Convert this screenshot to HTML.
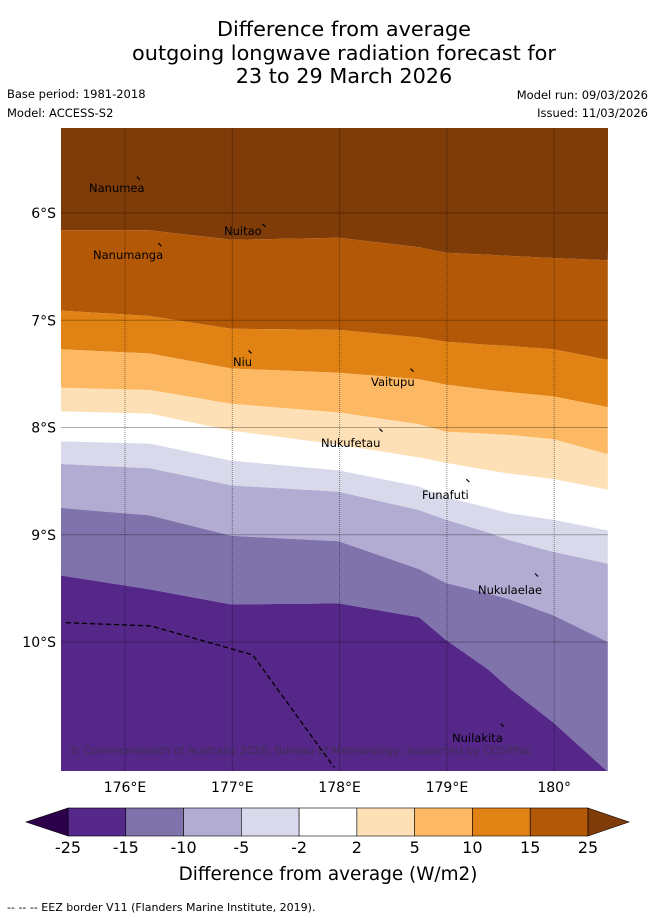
<!DOCTYPE html>
<html><head><meta charset="utf-8">
<style>
body{margin:0;background:#fff;width:655px;height:919px;overflow:hidden;font-family:"Liberation Sans","DejaVu Sans",sans-serif;}
svg text{font-family:"DejaVu Sans","Liberation Sans",sans-serif;}
</style></head>
<body>
<svg id="chart" width="655" height="919" xmlns="http://www.w3.org/2000/svg">
<g font-size="20.8" text-anchor="middle" fill="#000">
<text x="344" y="36">Difference from average</text>
<text x="344" y="60">outgoing longwave radiation forecast for</text>
<text x="344" y="83">23 to 29 March 2026</text>
</g>
<text x="7" y="98" font-size="11.5">Base period: 1981-2018</text>
<text x="7" y="117" font-size="11.5">Model: ACCESS-S2</text>
<text x="648" y="99" font-size="11.5" text-anchor="end">Model run: 09/03/2026</text>
<text x="648" y="117" font-size="11.5" text-anchor="end">Issued: 11/03/2026</text>
<defs><clipPath id="mapclip"><rect x="61" y="128" width="547" height="643"/></clipPath></defs>
<g id="map" clip-path="url(#mapclip)"></g>
<g id="axes"></g>
<g id="cbar"></g>
<text x="328" y="880" font-size="18.4" text-anchor="middle">Difference from average (W/m2)</text>
<text x="7" y="911" font-size="11">--  --  -- EEZ border V11 (Flanders Marine Institute, 2019).</text>
</svg>
<script>
// ---- data ----
const lons = [175.40, 176.23, 176.99, 177.99, 178.74, 178.99, 179.39, 179.58, 179.99, 180.50];
const levels = [25, 15, 10, 5, 2, -2, -5, -10, -15, -25];
const boundaries = [
  [6.16, 6.16, 6.25, 6.23, 6.32, 6.37, 6.39, 6.40, 6.42, 6.44],
  [6.91, 6.96, 7.08, 7.09, 7.16, 7.20, 7.23, 7.24, 7.27, 7.37],
  [7.27, 7.31, 7.45, 7.49, 7.55, 7.60, 7.65, 7.67, 7.71, 7.81],
  [7.63, 7.65, 7.78, 7.86, 7.97, 8.04, 8.06, 8.07, 8.11, 8.25],
  [7.85, 7.87, 8.03, 8.16, 8.28, 8.33, 8.40, 8.43, 8.48, 8.58],
  [8.13, 8.15, 8.31, 8.40, 8.55, 8.65, 8.75, 8.80, 8.86, 8.96],
  [8.34, 8.38, 8.54, 8.60, 8.77, 8.86, 8.98, 9.05, 9.16, 9.27],
  [8.75, 8.82, 9.01, 9.06, 9.32, 9.45, 9.55, 9.60, 9.75, 10.00],
  [9.38, 9.51, 9.65, 9.64, 9.77, 9.98, 10.26, 10.43, 10.75, 11.21]
];
const bandColors = ['#7f3b08','#b35806','#e08214','#fdb863','#fee0b6','#ffffff','#d8daeb','#b2abd2','#8073ac','#542788'];
const latTicks = [6, 7, 8, 9, 10];
const lonTicks = [176, 177, 178, 179, 180];
const lonTickLabels = ['176°E','177°E','178°E','179°E','180°'];
const cbarTicks = ['-25','-15','-10','-5','-2','2','5','10','15','25'];
const places = [
  {name:'Nanumea', lon:176.13, lat:5.68, lx:89, ly:192},
  {name:'Nuitao', lon:177.30, lat:6.12, lx:224, ly:235},
  {name:'Nanumanga', lon:176.33, lat:6.30, lx:93, ly:259},
  {name:'Niu', lon:177.17, lat:7.30, lx:233, ly:366},
  {name:'Vaitupu', lon:178.68, lat:7.47, lx:371, ly:386},
  {name:'Nukufetau', lon:178.39, lat:8.03, lx:321, ly:447},
  {name:'Funafuti', lon:179.20, lat:8.50, lx:422, ly:499},
  {name:'Nukulaelae', lon:179.84, lat:9.38, lx:478, ly:594},
  {name:'Nuilakita', lon:179.52, lat:10.78, lx:452, ly:742}
];
const eezLon = [175.45, 176.24, 177.19, 177.95];
const eezLat = [9.82, 9.85, 10.12, 11.17];

// ---- axes ----
const X0=61, X1=608, Y0=128, Y1=771;
const x = lon => 125 + (lon-176)*107.3;
const y = lat => 213 + (lat-6)*107.25;
const NS='http://www.w3.org/2000/svg';
function mk(tag, attrs, parent){const e=document.createElementNS(NS,tag);for(const k in attrs)e.setAttribute(k,attrs[k]);parent.appendChild(e);return e;}
const map=document.getElementById('map'), axes=document.getElementById('axes'), cbar=document.getElementById('cbar');

for(let i=0;i<bandColors.length;i++){
  let pts=[];
  if(i===0){pts.push([X0-2,Y0-2],[X1+2,Y0-2]);}
  else{const b=boundaries[i-1];for(let j=lons.length-1;j>=0;j--)pts.push([x(lons[j]),y(b[j])]);pts.reverse();}
  let bot=[];
  if(i===bandColors.length-1){bot=[[X1+2,Y1+2],[X0-2,Y1+2]];}
  else{const b=boundaries[i];for(let j=lons.length-1;j>=0;j--)bot.push([x(lons[j]),y(b[j])]);}
  const all=pts.concat(bot);
  const p=mk('polygon',{points:all.map(q=>q[0].toFixed(1)+','+q[1].toFixed(1)).join(' '),fill:bandColors[i]},map);
  
  
}
latTicks.forEach(t=>{const l=mk('line',{x1:X0,x2:X1,y1:y(t),y2:y(t),stroke:'#000','stroke-opacity':0.3,'stroke-width':1},map);
  
  });
lonTicks.forEach(t=>{const l=mk('line',{x1:x(t),x2:x(t),y1:Y0,y2:Y1,stroke:'#000','stroke-opacity':0.45,'stroke-width':1,'stroke-dasharray':'1,1'},map);
  
  });
const eez=mk('polyline',{points:eezLon.map((l,i)=>x(l).toFixed(1)+','+y(eezLat[i]).toFixed(1)).join(' '),fill:'none',stroke:'#000','stroke-width':1.3,'stroke-dasharray':'5,3'},map);


places.forEach(p=>{
  const m=mk('path',{d:`M${x(p.lon)-2},${y(p.lat)-2} l3,3`,stroke:'#000','stroke-width':1.2},map);
  
  
  const t=mk('text',{x:p.lx,y:p.ly,'font-size':11.5,fill:'#000'},map);t.textContent=p.name;
  
  
});
const cr=mk('text',{x:69,y:754,'font-size':11,fill:'#333','fill-opacity':0.6},map);
cr.textContent='© Commonwealth of Australia 2026, Bureau of Meteorology, supported by COSPPac';


latTicks.forEach(t=>{const e=mk('text',{x:56,y:y(t)+5,'font-size':14,'text-anchor':'end'},axes);e.textContent=t+'°S';
  
  });
lonTicks.forEach((t,i)=>{const e=mk('text',{x:x(t),y:792,'font-size':14,'text-anchor':'middle'},axes);e.textContent=lonTickLabels[i];
  
  });
const cb0=68, cb1=588, cy0=808, cy1=836, n=9, w=(cb1-cb0)/n;
const cbCols=bandColors.slice().reverse();
for(let i=0;i<n;i++){const r=mk('rect',{x:cb0+i*w,y:cy0,width:w,height:cy1-cy0,fill:cbCols[i],stroke:'#000','stroke-width':0.6},cbar);
  
  }
const la=mk('polygon',{points:`${cb0},${cy0} 26,${(cy0+cy1)/2} ${cb0},${cy1}`,fill:'#2d004b',stroke:'#000','stroke-width':0.6},cbar);


const ra=mk('polygon',{points:`${cb1},${cy0} 629,${(cy0+cy1)/2} ${cb1},${cy1}`,fill:'#7f3b08',stroke:'#000','stroke-width':0.6},cbar);


cbarTicks.forEach((t,i)=>{const e=mk('text',{x:cb0+i*w,y:853,'font-size':16,'text-anchor':'middle'},cbar);e.textContent=t;
  
  });
</script>
</body></html>
